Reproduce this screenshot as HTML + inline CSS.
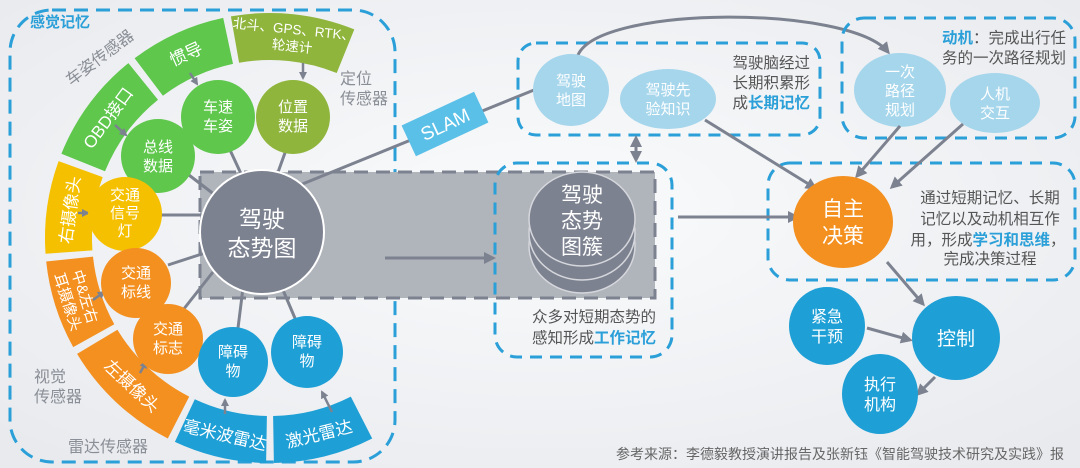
<!DOCTYPE html>
<html><head><meta charset="utf-8"><style>
html,body{margin:0;padding:0;background:#f0f1f4;}
svg{display:block;font-family:"Liberation Sans","Noto Sans CJK SC",sans-serif;}
</style></head><body>
<svg width="1080" height="468" viewBox="0 0 1080 468" xmlns="http://www.w3.org/2000/svg">
<defs>
<radialGradient id="bg" cx="50%" cy="45%" r="70%"><stop offset="0" stop-color="#fafbfc"/><stop offset="1" stop-color="#e8eaee"/></radialGradient>
<marker id="ar" markerWidth="8" markerHeight="8" refX="6" refY="4" orient="auto" markerUnits="userSpaceOnUse"><path d="M0,0 L8,4 L0,8 Z" fill="#7d8290"/></marker>
<marker id="ar2" markerWidth="12" markerHeight="12" refX="9" refY="6" orient="auto" markerUnits="userSpaceOnUse"><path d="M0,0 L12,6 L0,12 Z" fill="#7d8290"/></marker>
<marker id="ar2s" markerWidth="12" markerHeight="12" refX="3" refY="6" orient="auto" markerUnits="userSpaceOnUse"><path d="M12,0 L0,6 L12,12 Z" fill="#7d8290"/></marker>
</defs>
<rect width="1080" height="468" fill="url(#bg)"/>

<rect x="10" y="10" width="385" height="452" rx="42" fill="none" stroke="#2a9fd8" stroke-width="3" stroke-dasharray="14 8"/>
<text x="30" y="27" font-size="15" font-weight="bold" fill="#2a9fd8">感觉记忆</text>

<rect x="200" y="172" width="455" height="126" fill="#b0b4bb" stroke="#7d8290" stroke-width="3" stroke-dasharray="14 8"/>

<path d="M230.9,16.4 A225,225 0 0 1 354.3,29.4 L336.7,73 A178,178 0 0 0 239.1,62.7 Z" fill="#8fb53c"/>
<path d="M134.6,58.3 A225,225 0 0 1 223.2,17.9 L233,63.9 A178,178 0 0 0 162.9,95.8 Z" fill="#5ec74c"/>
<path d="M61.4,153.7 A225,225 0 0 1 128.4,63.1 L158,99.7 A178,178 0 0 0 105,171.3 Z" fill="#5ec74c"/>
<path d="M45.5,253.7 A225,225 0 0 1 58.6,161.1 L102.7,177.1 A178,178 0 0 0 92.4,250.4 Z" fill="#f5c000"/>
<path d="M73.2,347.1 A225,225 0 0 1 46.2,261.5 L93,256.6 A178,178 0 0 0 114.3,324.3 Z" fill="#f39020"/>
<path d="M167.8,438.5 A225,225 0 0 1 77.1,353.9 L117.4,329.7 A178,178 0 0 0 189.2,396.6 Z" fill="#f39020"/>
<path d="M266.1,463 A225,225 0 0 1 174.9,441.9 L194.8,399.3 A178,178 0 0 0 266.9,416 Z" fill="#1e9fd5"/>
<path d="M372.2,438.5 A225,225 0 0 1 273.9,463 L273.1,416 A178,178 0 0 0 350.8,396.6 Z" fill="#1e9fd5"/>

<g fill="#fff" font-size="15" text-anchor="middle">
<text transform="translate(293,38) rotate(6)" font-size="13.5"><tspan x="0" y="-4">北斗、GPS、RTK、</tspan><tspan x="0" y="13">轮速计</tspan></text>
<text transform="translate(186,54) rotate(-24.5)" y="6" font-size="17">惯导</text>
<text transform="translate(108,118) rotate(-53.5)" y="6" font-size="17">OBD接口</text>
<text transform="translate(70,210) rotate(-82)" y="6" font-size="17">右摄像头</text>
<text transform="translate(77,299) rotate(72.5)"><tspan x="0" y="-3">中&amp;左右</tspan><tspan x="0" y="15">耳摄像头</tspan></text>
<text transform="translate(132,386) rotate(43)" y="6" font-size="17">左摄像头</text>
<text transform="translate(225,435) rotate(13)" y="6" font-size="17">毫米波雷达</text>
<text transform="translate(319,434) rotate(-14)" y="6" font-size="17">激光雷达</text>
</g>

<g fill="#8a8e96" font-size="16">
<text transform="translate(100,58) rotate(-37)" text-anchor="middle" y="5">车姿传感器</text>
<text x="340" y="84">定位</text><text x="340" y="104">传感器</text>
<text x="34" y="382">视觉</text><text x="34" y="402">传感器</text>
<text x="68" y="452">雷达传感器</text>
</g>

<g stroke="#7d8290" stroke-width="2.5" fill="none" marker-end="url(#ar)">
<line x1="115" y1="125" x2="126" y2="135"/>
<line x1="190" y1="73" x2="197" y2="84"/>
<line x1="303" y1="63" x2="303" y2="78"/>
<line x1="78" y1="213" x2="88" y2="213"/>
<line x1="93" y1="300" x2="104" y2="292"/>
<line x1="140" y1="373" x2="146" y2="362"/>
<line x1="225" y1="414" x2="225" y2="400"/>
<line x1="332" y1="412" x2="322" y2="392"/>
</g>
<g stroke="#7d8290" stroke-width="3">
<line x1="185" y1="172" x2="215" y2="195"/>
<line x1="230" y1="150" x2="243" y2="178"/>
<line x1="286" y1="150" x2="277" y2="175"/>
<line x1="160" y1="215" x2="205" y2="215"/>
<line x1="168" y1="265" x2="205" y2="253"/>
<line x1="183" y1="310" x2="213" y2="272"/>
<line x1="238" y1="328" x2="243" y2="288"/>
<line x1="297" y1="323" x2="283" y2="290"/>
</g>

<g font-size="15" fill="#fff" text-anchor="middle">
<circle cx="158" cy="156" r="37" fill="#5ec74c"/><text x="158" y="152">总线</text><text x="158" y="171">数据</text>
<circle cx="218" cy="117" r="37" fill="#5ec74c"/><text x="218" y="112">车速</text><text x="218" y="131">车姿</text>
<circle cx="293" cy="117" r="37" fill="#8fb53c"/><text x="293" y="112">位置</text><text x="293" y="131">数据</text>
<circle cx="125" cy="214" r="37" fill="#f5c000"/><text x="125" y="200">交通</text><text x="125" y="218">信号</text><text x="125" y="236">灯</text>
<circle cx="136" cy="283" r="35" fill="#f39020"/><text x="136" y="278">交通</text><text x="136" y="297">标线</text>
<circle cx="168" cy="339" r="35" fill="#f39020"/><text x="168" y="334">交通</text><text x="168" y="353">标志</text>
<circle cx="233" cy="362" r="35" fill="#1e9fd5"/><text x="233" y="357">障碍</text><text x="233" y="376">物</text>
<circle cx="307" cy="352" r="36" fill="#1e9fd5"/><text x="307" y="347">障碍</text><text x="307" y="366">物</text>
</g>

<line x1="300" y1="185" x2="534" y2="90" stroke="#7d8290" stroke-width="3"/>
<circle cx="262" cy="232" r="62" fill="#7d8290" stroke="#fff" stroke-width="2"/>
<text x="262" y="227" font-size="23" fill="#fff" text-anchor="middle">驾驶</text>
<text x="262" y="256" font-size="23" fill="#fff" text-anchor="middle">态势图</text>

<g transform="translate(445,124) rotate(-25)"><rect x="-40" y="-17" width="80" height="34" fill="#5bc0e8"/><text x="0" y="7" font-size="19" fill="#fff" text-anchor="middle">SLAM</text></g>

<line x1="385" y1="258" x2="493" y2="258" stroke="#7d8290" stroke-width="3" marker-end="url(#ar2)"/>

<rect x="495" y="163" width="177" height="194" rx="22" fill="none" stroke="#2a9fd8" stroke-width="3" stroke-dasharray="12 8"/>
<g stroke="#d5d7dc" stroke-width="1.5" fill="#7d8290">
<ellipse cx="582" cy="246" rx="53" ry="47"/>
<ellipse cx="582" cy="233" rx="53" ry="47"/>
<ellipse cx="582" cy="219" rx="53" ry="47"/>
</g>
<g font-size="21" fill="#fff" text-anchor="middle"><text x="582" y="202">驾驶</text><text x="582" y="228">态势</text><text x="582" y="254">图簇</text></g>
<text x="656" y="322" font-size="15.5" fill="#555" text-anchor="end">众多对短期态势的</text>
<text x="656" y="343" font-size="15.5" fill="#555" text-anchor="end">感知形成<tspan fill="#2a9fd8" font-weight="bold">工作记忆</tspan></text>

<rect x="518" y="43" width="302" height="92" rx="18" fill="none" stroke="#2a9fd8" stroke-width="3" stroke-dasharray="12 8"/>
<path d="M578,55 C600,5 850,5 888,52" fill="none" stroke="#7d8290" stroke-width="3" marker-end="url(#ar2)"/>
<ellipse cx="571" cy="90" rx="38" ry="36" fill="#a6d6ec"/>
<text x="571" y="86" font-size="15" fill="#fff" text-anchor="middle">驾驶</text><text x="571" y="105" font-size="15" fill="#fff" text-anchor="middle">地图</text>
<ellipse cx="668" cy="99" rx="48" ry="30" fill="#a6d6ec"/>
<text x="668" y="95" font-size="15" fill="#fff" text-anchor="middle">驾驶先</text><text x="668" y="114" font-size="15" fill="#fff" text-anchor="middle">验知识</text>
<g font-size="15.5" fill="#555" text-anchor="end"><text x="810" y="68">驾驶脑经过</text><text x="810" y="88">长期积累形</text><text x="810" y="108">成<tspan fill="#2a9fd8" font-weight="bold">长期记忆</tspan></text></g>
<line x1="636" y1="138" x2="636" y2="160" stroke="#7d8290" stroke-width="3" marker-end="url(#ar2)" marker-start="url(#ar2s)"/>

<rect x="842" y="18" width="233" height="120" rx="22" fill="none" stroke="#2a9fd8" stroke-width="3" stroke-dasharray="12 8"/>
<text x="1066" y="43" font-size="15.5" fill="#555" text-anchor="end"><tspan fill="#2a9fd8" font-weight="bold">动机</tspan>：完成出行任</text>
<text x="1066" y="63" font-size="15.5" fill="#555" text-anchor="end">务的一次路径规划</text>
<ellipse cx="900" cy="90" rx="46" ry="37" fill="#a6d6ec"/>
<g font-size="15" fill="#fff" text-anchor="middle"><text x="900" y="77">一次</text><text x="900" y="96">路径</text><text x="900" y="115">规划</text></g>
<ellipse cx="995" cy="103" rx="45" ry="30" fill="#a6d6ec"/>
<text x="995" y="99" font-size="15" fill="#fff" text-anchor="middle">人机</text><text x="995" y="118" font-size="15" fill="#fff" text-anchor="middle">交互</text>

<rect x="768" y="163" width="307" height="117" rx="22" fill="none" stroke="#2a9fd8" stroke-width="3" stroke-dasharray="12 8"/>
<g stroke="#7d8290" stroke-width="3" fill="none" marker-end="url(#ar2)">
<line x1="900" y1="126" x2="857" y2="176"/>
<line x1="963" y1="124" x2="892" y2="187"/>
<line x1="705" y1="120" x2="815" y2="188"/>
<line x1="678" y1="217" x2="797" y2="217"/>
<line x1="887" y1="262" x2="923" y2="304"/>
<line x1="867" y1="328" x2="910" y2="340"/>
<line x1="935" y1="377" x2="918" y2="394"/>
</g>
<ellipse cx="843" cy="222" rx="50" ry="46" fill="#f39020"/>
<text x="843" y="216" font-size="21" fill="#fff" text-anchor="middle">自主</text><text x="843" y="243" font-size="21" fill="#fff" text-anchor="middle">决策</text>
<g font-size="15.5" fill="#555" text-anchor="middle">
<text x="990" y="203">通过短期记忆、长期</text>
<text x="990" y="224">记忆以及动机相互作</text>
<text x="988" y="245">用，形成<tspan fill="#2a9fd8" font-weight="bold">学习和思维</tspan>，</text>
<text x="990" y="264">完成决策过程</text>
</g>

<ellipse cx="827" cy="326" rx="38" ry="39" fill="#1e9fd5"/>
<text x="827" y="322" font-size="16" fill="#fff" text-anchor="middle">紧急</text><text x="827" y="342" font-size="16" fill="#fff" text-anchor="middle">干预</text>
<ellipse cx="956" cy="338" rx="44" ry="42" fill="#1e9fd5"/>
<text x="956" y="345" font-size="19" fill="#fff" text-anchor="middle">控制</text>
<ellipse cx="880" cy="394" rx="38" ry="40" fill="#1e9fd5"/>
<text x="880" y="390" font-size="16" fill="#fff" text-anchor="middle">执行</text><text x="880" y="410" font-size="16" fill="#fff" text-anchor="middle">机构</text>

<text x="616" y="459" font-size="14" fill="#666">参考来源：李德毅教授演讲报告及张新钰《智能驾驶技术研究及实践》报</text>
</svg>
</body></html>
